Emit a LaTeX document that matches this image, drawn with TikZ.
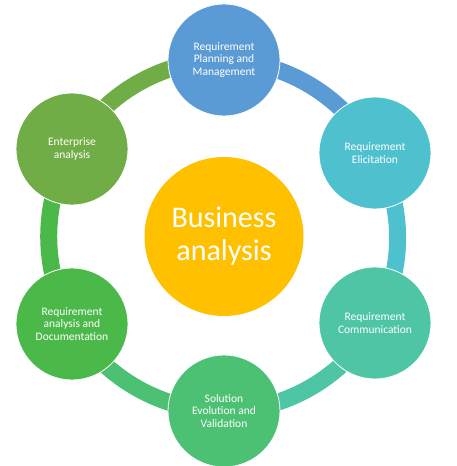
\documentclass[tikz,border=0pt]{standalone}
\usepackage{fontspec}
\setmainfont{Carlito}
\usetikzlibrary{backgrounds}
\definecolor{planblue}{HTML}{5B9BD5}
\definecolor{elicitteal}{HTML}{4FC1CE}
\definecolor{commgreen}{HTML}{4EC6A5}
\definecolor{solgreen}{HTML}{4CC174}
\definecolor{docgreen}{HTML}{4BB94A}
\definecolor{entgreen}{HTML}{70AD47}
\definecolor{bizgold}{HTML}{FFC000}
\tikzset{every node/.style={font=\fontsize{11.5}{12.6}\selectfont,text=white,align=center},
  stage/.style={circle,draw=white,line width=0.8pt,minimum size=112pt,inner sep=0pt},
  core/.style={circle,fill=bizgold,minimum size=159pt,inner sep=0pt,font=\fontsize{30}{33}\selectfont},
  ring/.style={line width=17pt,bend left=30,looseness=0.91}}

\begin{document}
\begin{tikzpicture}[x=1pt,y=1pt]
  \path[use as bounding box] (0,0) rectangle (457,466);
  \node[core] (core) at (224,229.5) {Business\\analysis};
  \node[stage,fill=planblue] (plan) at (224,406) {Requirement\\Planning and\\Management};
  \node[stage,fill=elicitteal] (elicit) at (375,313) {Requirement\\Elicitation};
  \node[stage,fill=commgreen] (comm) at (375,143) {Requirement\\Communication};
  \node[stage,fill=solgreen] (sol) at (224,55) {Solution\\Evolution and\\Validation};
  \node[stage,fill=docgreen] (doc) at (72,142) {Requirement\\analysis and\\Documentation};
  \node[stage,fill=entgreen] (ent) at (72,317) {Enterprise\\analysis};
  \begin{pgfonlayer}{background}
    \draw[ring,planblue] (plan.center) to (elicit.center);
    \draw[ring,elicitteal] (elicit.center) to (comm.center);
    \draw[ring,commgreen] (comm.center) to (sol.center);
    \draw[ring,solgreen] (sol.center) to (doc.center);
    \draw[ring,docgreen] (doc.center) to (ent.center);
    \draw[ring,entgreen] (ent.center) to (plan.center);
  \end{pgfonlayer}
\end{tikzpicture}
\end{document}
